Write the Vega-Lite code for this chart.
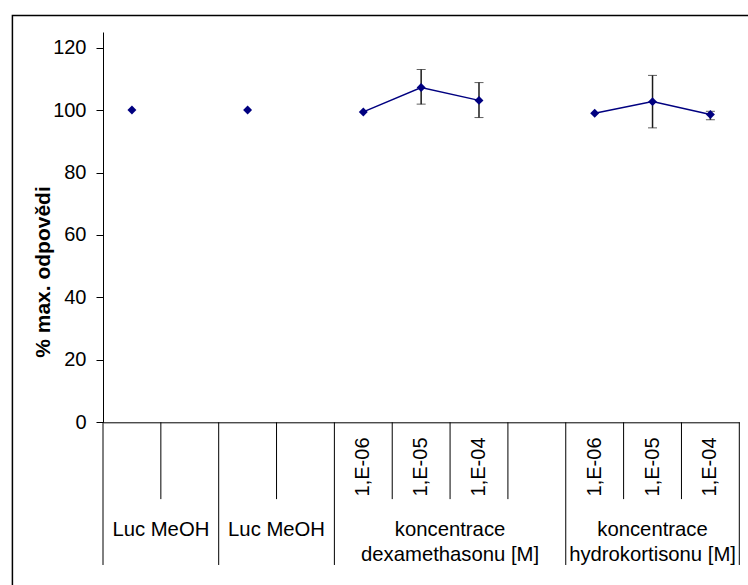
{
  "$schema": "https://vega.github.io/schema/vega-lite/v6.json",
  "width": 636.3,
  "height": 390.3,
  "autosize": {"type": "none"},
  "padding": {"left": 103, "top": 32, "right": 8.7, "bottom": 162.7},
  "background": "white",
  "config": {
    "view": {"stroke": null},
    "font": "Liberation Sans",
    "axisX": {"domain": true, "domainColor": "black", "domainWidth": 1, "ticks": false, "labels": false, "grid": false},
    "axisY": {
      "titleFont": "Liberation Sans",
      "titleFontSize": 21,
      "titleFontWeight": "bold",
      "titleColor": "black",
      "titleAngle": 270,
      "titleX": -60,
      "titleY": 239.5,
      "titleAlign": "center",
      "titleBaseline": "middle",
      "labelFont": "Liberation Sans",
      "labelFontSize": 20,
      "labelColor": "black",
      "labelPadding": 10,
      "tickSize": 7,
      "tickColor": "black",
      "domainColor": "black",
      "domainWidth": 1,
      "grid": false
    }
  },
  "datasets": {
    "measurements": [
      {"pos": 0.5, "series": "Luc MeOH 1", "value": 100},
      {"pos": 2.5, "series": "Luc MeOH 2", "value": 100},
      {"pos": 4.5, "series": "dexamethason", "value": 99.4},
      {"pos": 5.5, "series": "dexamethason", "value": 107.2, "lo": 101.9, "hi": 113.0},
      {"pos": 6.5, "series": "dexamethason", "value": 103.1, "lo": 97.6, "hi": 108.8},
      {"pos": 8.5, "series": "hydrokortison", "value": 99.0},
      {"pos": 9.5, "series": "hydrokortison", "value": 102.7, "lo": 94.3, "hi": 111.1},
      {"pos": 10.5, "series": "hydrokortison", "value": 98.6, "lo": 96.9, "hi": 99.6}
    ],
    "boundaries": [
      {"at": 0, "kind": "long"},
      {"at": 1, "kind": "short"},
      {"at": 2, "kind": "long"},
      {"at": 3, "kind": "short"},
      {"at": 4, "kind": "long"},
      {"at": 5, "kind": "short"},
      {"at": 6, "kind": "short"},
      {"at": 7, "kind": "short"},
      {"at": 8, "kind": "long"},
      {"at": 9, "kind": "short"},
      {"at": 10, "kind": "short"},
      {"at": 11, "kind": "long"}
    ],
    "concLabels": [
      {"at": 4.5, "label": "1,E-06"},
      {"at": 5.5, "label": "1,E-05"},
      {"at": 6.5, "label": "1,E-04"},
      {"at": 8.5, "label": "1,E-06"},
      {"at": 9.5, "label": "1,E-05"},
      {"at": 10.5, "label": "1,E-04"}
    ],
    "groupLabels": [
      {"at": 1, "label": "Luc MeOH"},
      {"at": 3, "label": "Luc MeOH"},
      {"at": 6, "label": "koncentrace\ndexamethasonu [M]"},
      {"at": 9.5, "label": "koncentrace\nhydrokortisonu [M]"}
    ]
  },
  "layer": [
    {
      "data": {"values": [{}]},
      "mark": {"type": "rect", "fillOpacity": 0, "stroke": "black", "strokeWidth": 1.5, "clip": false},
      "encoding": {
        "x": {"datum": -1.566, "type": "quantitative", "scale": {"domain": [0, 11]}, "title": null},
        "x2": {"datum": 11.5},
        "y": {"datum": 130.25, "type": "quantitative", "scale": {"domain": [0, 125], "nice": false}, "title": "% max. odpovědi", "axis": {"values": [0, 20, 40, 60, 80, 100, 120]}},
        "y2": {"datum": -60}
      }
    },
    {
      "data": {"name": "boundaries"},
      "transform": [{"filter": "datum.kind === 'short'"}],
      "mark": {"type": "rule", "color": "black", "strokeWidth": 1},
      "encoding": {
        "x": {"field": "at", "type": "quantitative", "scale": {"domain": [0, 11]}, "title": null},
        "y": {"datum": 0, "type": "quantitative", "scale": {"domain": [0, 125], "nice": false}, "title": "% max. odpovědi", "axis": {"values": [0, 20, 40, 60, 80, 100, 120]}},
        "y2": {"datum": -24.6}
      }
    },
    {
      "data": {"name": "boundaries"},
      "transform": [{"filter": "datum.kind === 'long'"}],
      "mark": {"type": "rule", "color": "black", "strokeWidth": 1},
      "encoding": {
        "x": {"field": "at", "type": "quantitative", "scale": {"domain": [0, 11]}, "title": null},
        "y": {"datum": 0, "type": "quantitative", "scale": {"domain": [0, 125], "nice": false}, "title": "% max. odpovědi", "axis": {"values": [0, 20, 40, 60, 80, 100, 120]}},
        "y2": {"datum": -45.7}
      }
    },
    {
      "data": {"name": "concLabels"},
      "mark": {"type": "text", "angle": 270, "align": "center", "baseline": "middle", "fontSize": 20, "color": "black", "font": "Liberation Sans"},
      "encoding": {
        "x": {"field": "at", "type": "quantitative", "scale": {"domain": [0, 11]}, "title": null},
        "y": {"datum": -14.3, "type": "quantitative", "scale": {"domain": [0, 125], "nice": false}, "title": "% max. odpovědi", "axis": {"values": [0, 20, 40, 60, 80, 100, 120]}},
        "text": {"field": "label"}
      }
    },
    {
      "data": {"name": "groupLabels"},
      "mark": {"type": "text", "align": "center", "baseline": "top", "lineBreak": "\n", "lineHeight": 24.5, "fontSize": 20.3, "color": "black", "font": "Liberation Sans"},
      "encoding": {
        "x": {"field": "at", "type": "quantitative", "scale": {"domain": [0, 11]}, "title": null},
        "y": {"datum": -31.3, "type": "quantitative", "scale": {"domain": [0, 125], "nice": false}, "title": "% max. odpovědi", "axis": {"values": [0, 20, 40, 60, 80, 100, 120]}},
        "text": {"field": "label"}
      }
    },
    {
      "data": {"name": "measurements"},
      "mark": {"type": "line", "color": "#000080", "strokeWidth": 1.5},
      "encoding": {
        "x": {"field": "pos", "type": "quantitative", "scale": {"domain": [0, 11]}, "title": null},
        "y": {"field": "value", "type": "quantitative", "scale": {"domain": [0, 125], "nice": false}, "title": "% max. odpovědi", "axis": {"values": [0, 20, 40, 60, 80, 100, 120]}},
        "detail": {"field": "series"}
      }
    },
    {
      "data": {"name": "measurements"},
      "transform": [{"filter": "isValid(datum.lo)"}],
      "mark": {"type": "errorbar", "color": "#1a1a1a", "ticks": {"size": 9, "strokeWidth": 1.5}, "rule": {"strokeWidth": 1.5}},
      "encoding": {
        "x": {"field": "pos", "type": "quantitative", "scale": {"domain": [0, 11]}, "title": null},
        "y": {"field": "lo", "type": "quantitative", "scale": {"domain": [0, 125], "nice": false}, "title": "% max. odpovědi", "axis": {"values": [0, 20, 40, 60, 80, 100, 120]}},
        "y2": {"field": "hi"}
      }
    },
    {
      "data": {"name": "measurements"},
      "mark": {"type": "point", "shape": "diamond", "filled": true, "size": 80, "color": "#000080", "opacity": 1},
      "encoding": {
        "x": {"field": "pos", "type": "quantitative", "scale": {"domain": [0, 11]}, "title": null},
        "y": {"field": "value", "type": "quantitative", "scale": {"domain": [0, 125], "nice": false}, "title": "% max. odpovědi", "axis": {"values": [0, 20, 40, 60, 80, 100, 120]}}
      }
    }
  ]
}
